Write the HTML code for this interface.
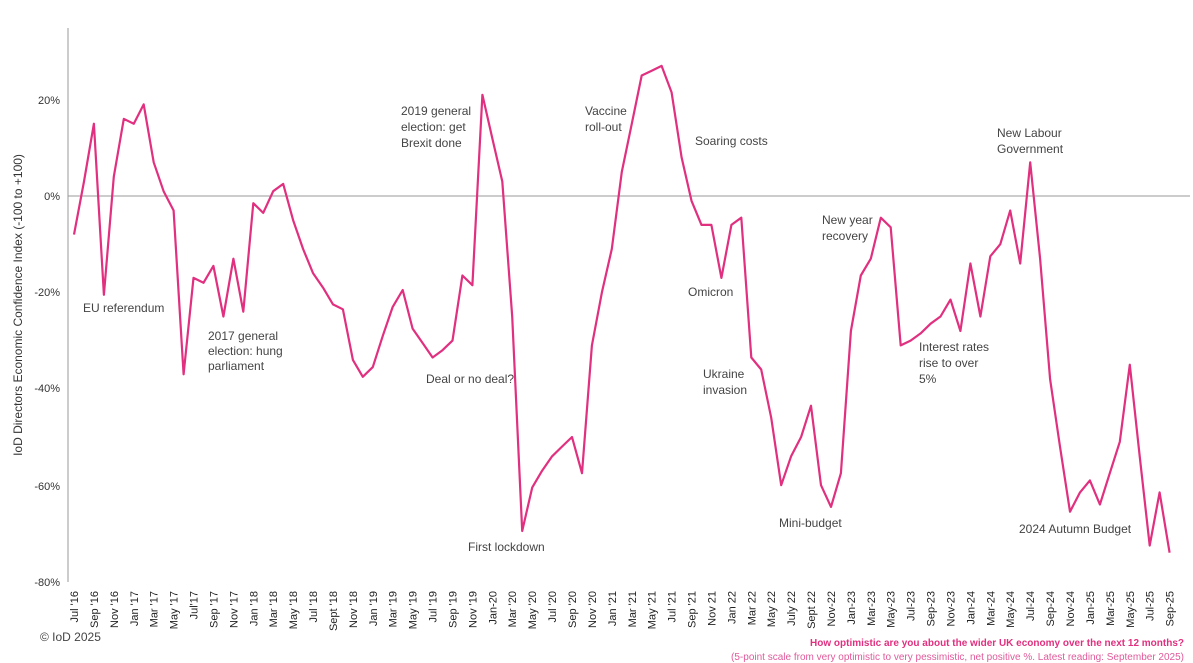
<!DOCTYPE html>
<html><head><meta charset="utf-8"><style>
body{margin:0;background:#fff;}
svg{display:block;font-family:"Liberation Sans",Arial,sans-serif;}
.a{font-size:12px;fill:#444;}
.t{font-size:11px;fill:#333;}
.x{font-size:11px;fill:#222;}
</style></head><body>
<svg width="1193" height="663" viewBox="0 0 1193 663" id="s">
<line x1="68" y1="28" x2="68" y2="582" stroke="#999" stroke-width="1"/>
<line x1="68" y1="196" x2="1190" y2="196" stroke="#999" stroke-width="1"/>
<g class="t" text-anchor="end">
<text x="60" y="104">20%</text><text x="60" y="200">0%</text><text x="60" y="296">-20%</text>
<text x="60" y="392">-40%</text><text x="60" y="490">-60%</text><text x="60" y="586">-80%</text>
</g>
<text class="t" transform="translate(22,305) rotate(-90)" text-anchor="middle" style="font-size:12px">IoD Directors Economic Confidence Index (-100 to +100)</text>
<g id="xl" class="x" text-anchor="end"></g>
<polyline id="ln" fill="none" stroke="#e0307f" stroke-width="2.2" stroke-linejoin="round"/>
<g class="a">
<text x="83" y="312">EU referendum</text>
<text x="208" y="340">2017 general</text><text x="208" y="355">election: hung</text><text x="208" y="370">parliament</text>
<text x="401" y="115">2019 general</text><text x="401" y="131">election: get</text><text x="401" y="147">Brexit done</text>
<text x="426" y="383">Deal or no deal?</text>
<text x="468" y="551">First lockdown</text>
<text x="585" y="115">Vaccine</text><text x="585" y="131">roll-out</text>
<text x="695" y="145">Soaring costs</text>
<text x="688" y="296">Omicron</text>
<text x="703" y="378">Ukraine</text><text x="703" y="394">invasion</text>
<text x="779" y="527">Mini-budget</text>
<text x="822" y="224">New year</text><text x="822" y="240">recovery</text>
<text x="919" y="351">Interest rates</text><text x="919" y="367">rise to over</text><text x="919" y="383">5%</text>
<text x="997" y="137">New Labour</text><text x="997" y="153">Government</text>
<text x="1019" y="533">2024 Autumn Budget</text>
</g>
<text x="40" y="641" style="font-size:12px;fill:#444">© IoD 2025</text>
<text x="1184" y="646" text-anchor="end" style="font-size:10px;fill:#e0307f;font-weight:bold">How optimistic are you about the wider UK economy over the next 12 months?</text>
<text x="1184" y="660" text-anchor="end" style="font-size:10px;fill:#e05a9a">(5-point scale from very optimistic to very pessimistic, net positive %. Latest reading: September 2025)</text>
</svg>
<script>
var v=[-8,3,15,-20.5,4,16,15,19,7,1,-3,-37,-17,-18,-14.5,-25,-13,-24,-1.5,-3.5,1,2.5,-5,-11,-16,-19,-22.5,-23.5,-34,-37.5,-35.5,-29,-23,-19.5,-27.5,-30.5,-33.5,-32,-30,-16.5,-18.5,21,12,3,-25,-69.5,-60.5,-57,-54,-52,-50,-57.5,-31,-20,-11,5,15,25,26,27,21.5,8,-1,-6,-6,-17,-6,-4.5,-33.5,-36,-46,-60,-54,-50,-43.5,-60,-64.5,-57.5,-28,-16.5,-13,-4.5,-6.5,-31,-30,-28.5,-26.5,-25,-21.5,-28,-14,-25,-12.5,-10,-3,-14,7,-13,-38,-52,-65.5,-61.5,-59,-64,-57.5,-51,-35,-54,-72.5,-61.5,-74];
var p=v.map(function(d,i){return (74+i*9.96).toFixed(1)+","+(196-d*4.82).toFixed(1)}).join(" ");
document.getElementById("ln").setAttribute("points",p);
var L=["Jul '16","Sep '16","Nov '16","Jan '17","Mar '17","May '17","Jul'17","Sep '17","Nov '17","Jan '18","Mar '18","May '18","Jul '18","Sept '18","Nov '18","Jan '19","Mar '19","May '19","Jul '19","Sep '19","Nov '19","Jan-20","Mar '20","May '20","Jul '20","Sep '20","Nov '20","Jan '21","Mar '21","May '21","Jul '21","Sep '21","Nov 21","Jan 22","Mar 22","May 22","July 22","Sept 22","Nov-22","Jan-23","Mar-23","May-23","Jul-23","Sep-23","Nov-23","Jan-24","Mar-24","May-24","Jul-24","Sep-24","Nov-24","Jan-25","Mar-25","May-25","Jul-25","Sep-25"];
var g=document.getElementById("xl"),h="";
L.forEach(function(t,i){var x=74+i*2*9.96+4;h+='<text transform="translate('+x.toFixed(1)+',591) rotate(-90)">'+t+'</text>';});
g.innerHTML=h;
</script>
</body></html>
